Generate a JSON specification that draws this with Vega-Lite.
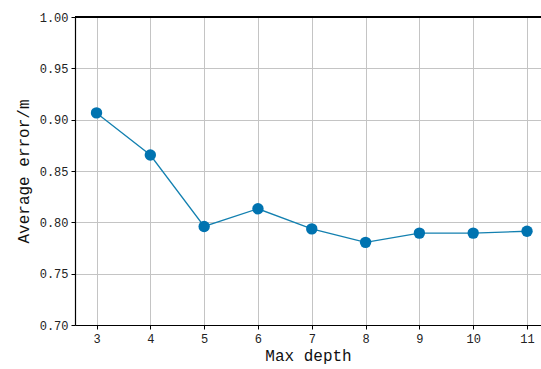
{
  "$schema": "https://vega.github.io/schema/vega-lite/v6.json",
  "autosize": "none",
  "padding": {"left": 75, "top": 17, "right": 0, "bottom": 44},
  "width": 466,
  "height": 308,
  "background": "white",
  "config": {
    "view": {"stroke": null},
    "axis": {
      "labelFont": "Liberation Mono",
      "titleFont": "Liberation Mono",
      "labelFontSize": 12,
      "titleFontSize": 16,
      "titleFontWeight": "normal",
      "labelColor": "#222",
      "titleColor": "#111",
      "domainColor": "#000",
      "domainWidth": 1.2,
      "tickColor": "#000",
      "tickSize": 4,
      "gridColor": "#c4c4c4",
      "gridWidth": 1
    }
  },
  "data": {
    "values": [
      {"depth": 3, "error": 0.9066},
      {"depth": 4, "error": 0.8656},
      {"depth": 5, "error": 0.796},
      {"depth": 6, "error": 0.8132},
      {"depth": 7, "error": 0.7936},
      {"depth": 8, "error": 0.7805},
      {"depth": 9, "error": 0.7895},
      {"depth": 10, "error": 0.7895},
      {"depth": 11, "error": 0.7913}
    ]
  },
  "encoding": {
    "x": {
      "field": "depth",
      "type": "quantitative",
      "scale": {"domain": [2.6, 11.26], "nice": false, "zero": false},
      "axis": {
        "title": "Max depth",
        "values": [3, 4, 5, 6, 7, 8, 9, 10, 11],
        "grid": true,
        "labelPadding": 4,
        "titlePadding": 3
      }
    },
    "y": {
      "field": "error",
      "type": "quantitative",
      "scale": {"domain": [0.7, 1.0], "nice": false, "zero": false},
      "axis": {
        "title": "Average error/m",
        "values": [0.7, 0.75, 0.8, 0.85, 0.9, 0.95, 1.0],
        "format": ".2f",
        "grid": true,
        "labelPadding": 3,
        "titlePadding": 8
      }
    }
  },
  "layer": [
    {
      "mark": {"type": "rule", "color": "#000", "strokeWidth": 1.2},
      "encoding": {
        "y": {"datum": 1.0, "type": "quantitative"},
        "x": null
      }
    },
    {
      "mark": {"type": "line", "color": "#1380b0", "strokeWidth": 1.3}
    },
    {
      "mark": {"type": "point", "filled": true, "shape": "circle", "size": 130, "color": "#0073b0", "opacity": 1}
    }
  ]
}
